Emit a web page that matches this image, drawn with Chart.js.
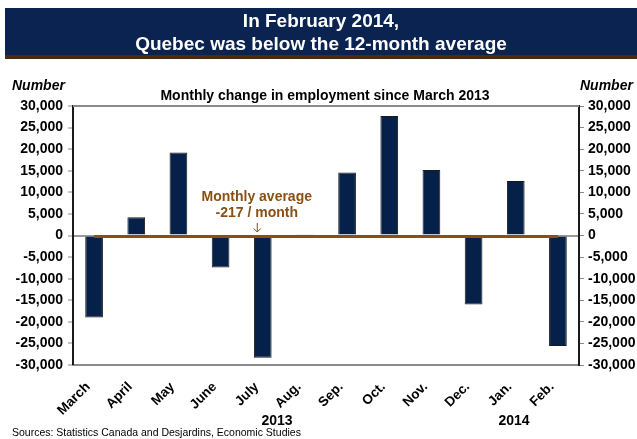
<!DOCTYPE html>
<html>
<head>
<meta charset="utf-8">
<script src="https://cdn.jsdelivr.net/npm/chart.js@4/dist/chart.umd.min.js"></script>
<style>
  html, body { margin: 0; padding: 0; background: #ffffff; }
  #wrap { width: 637px; height: 439px; }
</style>
</head>
<body>
<div id="wrap"><canvas id="c" width="637" height="439"></canvas></div>
<script>
const categories = ["March", "April", "May", "June", "July", "Aug.", "Sep.", "Oct.", "Nov.", "Dec.", "Jan.", "Feb."];
const employmentChange = [-19000, 4200, 19200, -7400, -28300, 200, 14600, 27700, 15200, -16000, 12600, -25600];
const monthlyAverage = [-217, -217, -217, -217, -217, -217, -217, -217, -217, -217, -217, -217];
const yearLabels = ["2013", "2014"];
const titleLines = ["In February 2014,", "Quebec was below the 12-month average"];
const subtitle = "Monthly change in employment since March 2013";
const annotationLines = ["Monthly average", "-217 / month"];
const axisTitle = "Number";
const sourceText = "Sources: Statistics Canada and Desjardins, Economic Studies";

const FONT = "'Liberation Sans', Arial, Helvetica, sans-serif";
const NAVY = "#062149";
const BROWN = "#8B4F14";

const decorPlugin = {
  id: "decor",
  beforeDraw(chart) {
    const ctx = chart.ctx;
    ctx.save();
    ctx.fillStyle = "#ffffff";
    ctx.fillRect(0, 0, chart.width, chart.height);
    ctx.fillStyle = "#0A2350";
    ctx.fillRect(5, 8, 632, 47);
    ctx.fillStyle = "#4B2A0E";
    ctx.fillRect(5, 55, 632, 4);
    ctx.restore();
  },
  afterDraw(chart) {
    const ctx = chart.ctx;
    const a = chart.chartArea;
    const xs = chart.scales.x;
    ctx.save();
    ctx.fillStyle = "#ffffff";
    ctx.textAlign = "center";
    ctx.textBaseline = "middle";
    ctx.font = "bold 19px " + FONT;
    ctx.fillText(titleLines[0], 321, 22);
    ctx.fillText(titleLines[1], 321, 45);
    ctx.strokeStyle = "#8a8a8a";
    ctx.lineWidth = 2;
    ctx.beginPath();
    ctx.moveTo(a.left, a.top);
    ctx.lineTo(a.right, a.top);
    ctx.stroke();
    ctx.fillStyle = "#000000";
    ctx.font = "bold 14px " + FONT;
    ctx.fillText(subtitle, 325, 96);
    ctx.font = "italic bold 14px " + FONT;
    ctx.textAlign = "left";
    ctx.fillText(axisTitle, 12, 86);
    ctx.fillText(axisTitle, 580, 86);
    ctx.font = "bold 14px " + FONT;
    ctx.textAlign = "center";
    ctx.fillText(yearLabels[0], 277, 421);
    ctx.fillText(yearLabels[1], 514, 421);
    ctx.font = "10.5px " + FONT;
    ctx.textAlign = "left";
    ctx.fillText(sourceText, 12, 433);
    const ax = xs.getPixelForValue(4) - 6;
    ctx.fillStyle = BROWN;
    ctx.font = "bold 14px " + FONT;
    ctx.textAlign = "center";
    ctx.fillText(annotationLines[0], ax, 197);
    ctx.fillText(annotationLines[1], ax, 213);
    ctx.strokeStyle = BROWN;
    ctx.lineWidth = 1;
    ctx.beginPath();
    ctx.moveTo(ax + 0.5, 223);
    ctx.lineTo(ax + 0.5, 232);
    ctx.moveTo(ax - 3, 228.5);
    ctx.lineTo(ax + 0.5, 232);
    ctx.lineTo(ax + 4, 228.5);
    ctx.stroke();
    ctx.restore();
  }
};

const fmt = v => Number(v).toLocaleString("en-US");

new Chart(document.getElementById("c"), {
  data: {
    labels: categories,
    datasets: [
      {
        type: "line",
        data: monthlyAverage,
        borderColor: BROWN,
        borderWidth: 3,
        pointRadius: 0,
        fill: false,
        order: 1,
        yAxisID: "y"
      },
      {
        type: "bar",
        data: employmentChange,
        backgroundColor: NAVY,
        borderColor: "#1a1a1a",
        borderWidth: 1,
        barPercentage: 0.42,
        categoryPercentage: 1.0,
        order: 2,
        yAxisID: "y"
      }
    ]
  },
  options: {
    responsive: false,
    animation: false,
    devicePixelRatio: 1,
    layout: { padding: { top: 106, left: 0, right: 0, bottom: 0 } },
    plugins: { legend: { display: false }, tooltip: { enabled: false }, title: { display: false } },
    scales: {
      x: {
        position: "bottom",
        grid: { display: false, drawTicks: false },
        border: { display: true, color: "#8a8a8a", width: 2 },
        ticks: {
          autoSkip: false,
          maxRotation: 45,
          minRotation: 45,
          padding: 14,
          labelOffset: -6,
          color: "#000000",
          font: { family: FONT, size: 13.5, weight: "bold" }
        },
        afterFit(s) { s.height = 74; }
      },
      y: {
        position: "left",
        min: -30000,
        max: 30000,
        grid: {
          drawOnChartArea: true,
          color: c => (c.tick && c.tick.value === 0 ? "#9a9a9a" : "rgba(0,0,0,0)"),
          lineWidth: c => (c.tick && c.tick.value === 0 ? 2 : 0),
          tickColor: "#8a8a8a",
          tickLength: 5,
          tickWidth: 1
        },
        border: { display: true, color: "#1a1a1a", width: 2 },
        ticks: {
          stepSize: 5000,
          padding: 5,
          color: "#000000",
          font: { family: FONT, size: 14, weight: "bold" },
          callback: v => fmt(v)
        },
        afterFit(s) { s.width = 73; }
      },
      y2: {
        position: "right",
        min: -30000,
        max: 30000,
        grid: { drawOnChartArea: false, tickColor: "#8a8a8a", tickLength: 5, tickWidth: 1 },
        border: { display: true, color: "#1a1a1a", width: 2 },
        ticks: {
          stepSize: 5000,
          padding: 4,
          color: "#000000",
          font: { family: FONT, size: 14, weight: "bold" },
          callback: v => fmt(v)
        },
        afterFit(s) { s.width = 58; }
      }
    }
  },
  plugins: [decorPlugin]
});
</script>
</body>
</html>
